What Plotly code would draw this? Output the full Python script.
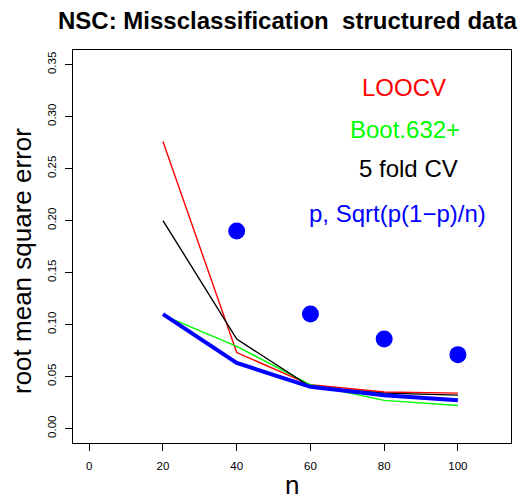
import plotly.graph_objects as go

n = [20, 40, 60, 80, 100]
loocv = [0.276, 0.073, 0.042, 0.035, 0.034]
boot632 = [0.109, 0.079, 0.042, 0.027, 0.022]
fold5 = [0.200, 0.086, 0.040, 0.034, 0.032]
sqrt_p = [0.110, 0.063, 0.040, 0.032, 0.027]
dot_n = [40, 60, 80, 100]
dot_p = [0.190, 0.110, 0.086, 0.071]

labels = ["LOOCV", "Boot.632+", "5 fold CV", "p, Sqrt(p(1\u2212p)/n)"]
label_x = [85.4, 85.7, 86.5, 83.7]
label_y = [0.328, 0.288, 0.250, 0.207]
label_colors = ["#FF0000", "#00FF00", "#000000", "#0000FF"]

xticks = [0, 20, 40, 60, 80, 100]
yticks = [0.00, 0.05, 0.10, 0.15, 0.20, 0.25, 0.30, 0.35]

FONT = "Liberation Sans, Arial, sans-serif"
OFF = 8  # page body margin
W, H = 528 - OFF, 497 - OFF
L, R, T, B = 73 - OFF, 17, 50 - OFF, 54
PW, PH = W - L - R, H - T - B


def px(xp):
    return (xp - OFF - L) / PW


def py(yp):
    return (H - B - (yp - OFF)) / PH


fig = go.Figure()
fig.add_trace(go.Scatter(x=n, y=loocv, mode="lines", line=dict(color="#FF0000", width=1.4)))
fig.add_trace(go.Scatter(x=n, y=boot632, mode="lines", line=dict(color="#00FF00", width=1.4)))
fig.add_trace(go.Scatter(x=n, y=fold5, mode="lines", line=dict(color="#000000", width=1.4)))
fig.add_trace(go.Scatter(x=n, y=sqrt_p, mode="lines", line=dict(color="#0000FF", width=4)))
fig.add_trace(go.Scatter(x=dot_n, y=dot_p, mode="markers",
                         marker=dict(color="#0000FF", size=17, line=dict(width=0))))

for t, x, y, c in zip(labels, label_x, label_y, label_colors):
    fig.add_annotation(x=x, y=y, xref="x", yref="y", text=t, showarrow=False,
                       font=dict(family=FONT, size=24, color=c))

# title
fig.add_annotation(x=px(287), y=py(20), xref="paper", yref="paper",
                   text="<b>NSC: Missclassification  structured data</b>",
                   showarrow=False, xanchor="center", yanchor="middle",
                   font=dict(family=FONT, size=24, color="black"))
# axis titles
fig.add_annotation(x=px(292), y=py(485), xref="paper", yref="paper", text="n",
                   showarrow=False, xanchor="center", yanchor="middle",
                   font=dict(family=FONT, size=26, color="black"))
fig.add_annotation(x=px(22), y=py(261), xref="paper", yref="paper", text="root mean square error",
                   showarrow=False, xanchor="center", yanchor="middle", textangle=-90,
                   font=dict(family=FONT, size=26, color="black"))

fig.update_layout(
    width=W, height=H,
    margin=dict(l=L, r=R, t=T, b=B),
    paper_bgcolor="white", plot_bgcolor="white",
    showlegend=False,
    font=dict(family=FONT, color="black"),
)

fig.update_xaxes(range=[-4.4, 114.4], tickvals=xticks, ticktext=[str(v) for v in xticks],
                 automargin=False, ticklabelstandoff=5,
                 showline=True, mirror=True, linecolor="black", linewidth=1,
                 ticks="outside", ticklen=7, tickcolor="black", tickwidth=1,
                 showgrid=False, zeroline=False, tickfont=dict(size=11.5))
fig.update_yaxes(range=[-0.014, 0.364], tickvals=yticks, ticktext=["%.2f" % v for v in yticks],
                 tickangle=-90, automargin=False, ticklabelstandoff=4,
                 showline=True, mirror=True, linecolor="black", linewidth=1,
                 ticks="outside", ticklen=7, tickcolor="black", tickwidth=1,
                 showgrid=False, zeroline=False, tickfont=dict(size=11.5))

fig.write_html("out.html")
